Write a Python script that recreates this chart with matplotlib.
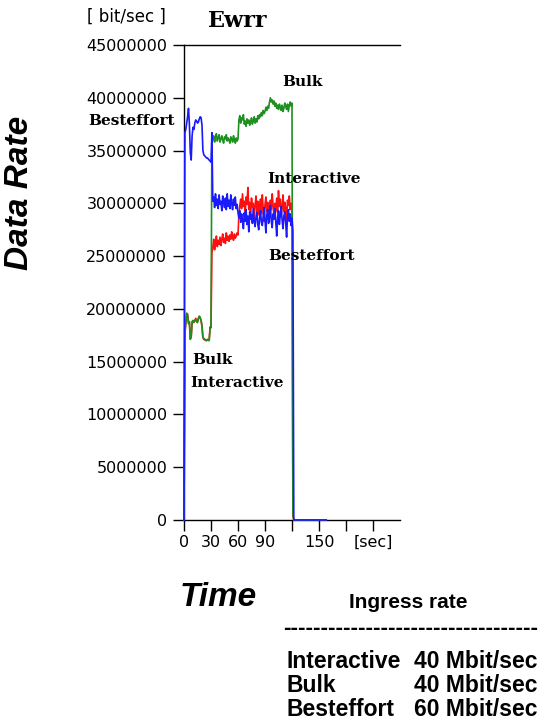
import numpy as np
import matplotlib
matplotlib.use('Agg')
import matplotlib.pyplot as plt

# sample times in seconds
time = list(range(0, 123)) + [158]

# data rates, in Mbit/sec
interactive = [0, 17.7, 18.6, 19.5, 19.5, 18.7, 18.7, 17.2, 17.3, 18.8,
               18.9, 18.7, 18.9, 19.1, 18.8, 18.8, 19.1, 19.3, 19.1, 18.9,
               18.3, 17.3, 17.1, 17.1, 17.0, 17.0, 17.1, 17.0, 17.1, 18.3,
               18.2, 25.3, 25.8, 26.6, 25.6, 26.2, 26.9, 25.9, 26.5, 26.1,
               26.8, 26.0, 26.6, 27.1, 26.3, 26.7, 26.2, 27.2, 26.5, 26.9,
               26.4, 27.0, 26.6, 27.3, 26.8, 26.5, 27.1, 26.7, 26.9, 27.2,
               27.0, 28.9, 29.8, 30.4, 29.5, 30.9, 29.7, 30.2, 29.1, 30.6,
               29.9, 31.5, 29.4, 30.1, 28.8, 30.5, 29.6, 30.0, 28.5, 29.8,
               30.7, 29.3, 30.2, 28.9, 29.7, 30.4, 29.0, 30.8, 29.5, 28.3,
               29.9, 30.6, 29.2, 30.1, 28.7, 29.6, 30.3, 29.4, 30.9, 29.8,
               28.6, 30.0, 29.3, 30.5, 29.1, 31.2, 29.7, 30.4, 28.9, 29.6,
               30.8, 29.2, 30.1, 29.5, 28.4, 30.3, 29.8, 30.7, 29.4, 30.0,
               29.3, 0.4, 0, 0]

bulk = [0, 17.6, 18.7, 19.6, 19.4, 18.6, 18.8, 17.1, 17.4, 18.7,
        18.9, 18.8, 18.9, 19.0, 18.8, 18.7, 19.1, 19.3, 19.2, 18.9,
        18.4, 17.3, 17.2, 17.1, 17.1, 17.0, 17.1, 17.1, 17.0, 18.2,
        18.3, 36.2, 36.0, 36.4, 35.8, 36.3, 36.6, 35.9, 36.2, 36.5,
        35.8, 36.1, 36.4, 36.0, 35.7, 36.3, 36.1, 36.5, 35.9, 36.2,
        36.0, 35.7, 36.3, 36.1, 35.8, 36.4, 36.0, 35.7, 36.2, 35.9,
        36.1, 37.9, 38.3, 37.6, 38.1, 37.9, 38.4, 37.5, 37.8, 37.3,
        38.0, 37.6, 37.9, 37.4, 37.7, 38.1, 37.5, 37.8, 38.2, 37.6,
        38.0, 37.7, 38.3, 38.0, 38.4, 38.2, 38.6, 38.3, 38.8, 38.5,
        38.7, 39.1, 38.8, 39.2, 39.0, 39.6, 40.0, 39.6, 39.8, 39.4,
        39.7, 39.2, 39.5, 39.0, 39.3, 38.9, 39.4, 39.1, 38.8, 39.3,
        38.7, 39.0, 39.5, 39.2, 38.9, 39.4, 38.7, 39.3, 39.6, 39.2,
        39.5, 0.6, 0, 0]

besteffort = [0, 36.7, 37.0, 37.6, 38.2, 39.0, 37.5, 34.8, 34.1, 36.4,
              37.2, 37.0, 37.6, 37.9, 37.8, 37.6, 37.7, 38.0, 38.2, 38.1,
              37.4, 35.0, 34.6, 34.5, 34.4, 34.3, 34.3, 34.2, 34.1, 34.0,
              33.9, 36.7, 30.2, 30.6, 29.6, 30.9, 29.8, 30.4, 29.5, 30.8,
              29.9, 30.2, 29.3, 30.7, 30.1, 29.6, 30.5, 29.4, 30.9, 29.7,
              30.3, 29.5, 30.8, 30.0, 29.4, 30.4, 29.8, 30.6, 29.5, 29.9,
              29.1, 28.6, 29.3, 28.2, 29.0, 28.4, 27.6, 29.1, 28.3, 29.4,
              28.0, 28.8, 27.3, 29.2, 28.5, 28.9, 28.1, 29.5, 28.3, 27.8,
              28.7, 29.2, 28.0, 27.5, 28.6, 29.3, 28.2, 27.9, 28.8, 29.6,
              28.4, 27.2, 28.9, 29.4, 28.1, 28.7, 29.8, 28.3, 27.7, 29.0,
              28.5, 29.5, 28.2, 26.9, 28.6, 29.3, 28.0, 28.9, 29.7, 28.4,
              27.6, 28.8, 29.2, 28.1, 26.8, 28.7, 29.4, 28.3, 29.0, 27.9,
              28.6, 27.4, 0, 0]

x_ticks = [0, 30, 60, 90, 120, 150, 180, 210]
x_labels = ['0', '30', '60', '90', '', '150', '', '[sec]']
y_ticks = list(range(0, 45000001, 5000000))

# ingress table rows
ingress_names = ['Interactive', 'Bulk', 'Besteffort']
ingress_rates = ['40 Mbit/sec', '40 Mbit/sec', '60 Mbit/sec']

W, H = 540, 724
fig = plt.figure(figsize=(W / 100, H / 100), dpi=100)

def px(x, y):
    return x / W, 1 - y / H

ax = fig.add_axes([184 / W, 1 - 520 / H, 216 / W, 475 / H])
t = np.array(time)
ax.plot(t, np.array(interactive) * 1e6, color='#ff1010', lw=1.2, zorder=3, clip_on=False)
ax.plot(t, np.array(bulk) * 1e6, color='#1f9020', lw=1.2, zorder=4, clip_on=False)
ax.plot(t, np.array(besteffort) * 1e6, color='#1a1aff', lw=1.2, zorder=5, clip_on=False)

ax.set_xlim(0, 240)
ax.set_ylim(0, 45000000)
ax.set_xticks(x_ticks)
ax.set_xticklabels(x_labels)
ax.set_yticks(y_ticks)
ax.set_yticklabels([str(v) for v in y_ticks])
ax.spines['right'].set_visible(False)
for s in ['left', 'bottom', 'top']:
    ax.spines[s].set_linewidth(1.0)
ax.tick_params(axis='both', direction='out', length=8, width=1.0,
               labelsize=11.5, pad=3)
ax.tick_params(axis='y', pad=4)
for lab in ax.get_xticklabels() + ax.get_yticklabels():
    lab.set_family('DejaVu Sans')

# titles and units
fig.text(*px(238, 21), 'Ewrr', family='DejaVu Serif', weight='bold',
         fontsize=16, ha='center', va='center')
fig.text(*px(126, 17), '[ bit/sec ]', family='DejaVu Sans', fontsize=12,
         ha='center', va='center')

# series labels
lab_kw = dict(family='DejaVu Serif', weight='bold', fontsize=11, va='center')
fig.text(*px(132, 121), 'Besteffort', ha='center', **lab_kw)
fig.text(*px(302, 82), 'Bulk', ha='center', **lab_kw)
fig.text(*px(267, 179), 'Interactive', ha='left', **lab_kw)
fig.text(*px(268, 256), 'Besteffort', ha='left', **lab_kw)
fig.text(*px(192, 360), 'Bulk', ha='left', **lab_kw)
fig.text(*px(190, 383), 'Interactive', ha='left', **lab_kw)

# axis names
fig.text(*px(20, 193), 'Data Rate', family='Liberation Sans', weight='bold',
         style='italic', fontsize=24, rotation=90, ha='center', va='center')
fig.text(*px(218, 597), 'Time', family='Liberation Sans', weight='bold',
         style='italic', fontsize=24, ha='center', va='center')

# ingress rate table
tab_kw = dict(family='Liberation Sans', weight='bold', va='center')
fig.text(*px(408, 602), 'Ingress rate', ha='center', fontsize=15, **tab_kw)
fig.text(*px(283, 628), '-' * 34, ha='left', fontsize=16.5, **tab_kw)
for i in range(len(ingress_names)):
    y = 661 + i * 24.5
    fig.text(*px(286, y), ingress_names[i], ha='left', fontsize=16.5, **tab_kw)
    fig.text(*px(537, y), ingress_rates[i], ha='right', fontsize=16.5, **tab_kw)

fig.savefig('out.png', dpi=100)
